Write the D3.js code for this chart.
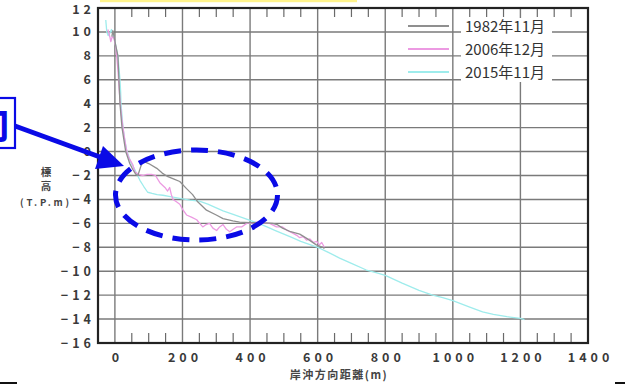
<!DOCTYPE html>
<html>
<head>
<meta charset="utf-8">
<script src="https://cdn.jsdelivr.net/npm/d3@7"></script>
<style>
  html, body { margin: 0; padding: 0; background: #fff; }
  svg { display: block; }
  text { font-family: "Noto Sans CJK JP", "Noto Sans", sans-serif; }
</style>
</head>
<body>
<svg id="chart" width="625" height="385"></svg>
<script>
// Cross-shore beach profiles: distance offshore (m) vs. elevation (T.P. m)
const seriesNames = ["1982年11月", "2006年12月", "2015年11月"];
const seriesColors = ["#8f8f8f", "#ec9ae2", "#9eecec"];

const profile1982 = [
  [-9, 9.6], [-6, 10.1], [-3, 9.7], [3, 8.8], [9, 8.0], [12, 6.0], [15, 4.0], [21, 2.0],
  [32, 0.0], [44, -1.0], [53, -1.5], [62, -1.9], [68, -2.0], [76, -1.3], [83, -0.8],
  [100, -1.0], [124, -1.4], [140, -1.8], [157, -2.1], [175, -2.3], [192, -2.5],
  [212, -3.1], [230, -3.6], [245, -4.2], [271, -4.9], [300, -5.3], [320, -5.6],
  [349, -5.8], [369, -5.9], [400, -5.95], [430, -5.95], [467, -6.0], [480, -6.1],
  [496, -6.4], [520, -6.7], [547, -6.9], [570, -7.3], [596, -7.8], [615, -8.0], [620, -8.1]
];

const profile2006 = [
  [-21, 10.2], [-15, 9.6], [-12, 9.2], [-8, 9.6], [-3, 9.5], [3, 8.7], [6, 7.8], [9, 6.8],
  [12, 5.5], [15, 4.3], [18, 3.4], [21, 2.6], [24, 2.0], [27, 1.4], [32, 0.5], [36, -0.1],
  [41, -0.5], [47, -0.8], [53, -1.1], [59, -1.7], [70, -1.9], [83, -2.0], [95, -1.9],
  [109, -1.9], [120, -2.0], [133, -2.6], [148, -3.0], [156, -3.3], [162, -3.0], [167, -3.6],
  [172, -4.0], [182, -4.2], [192, -4.4], [202, -4.9], [212, -5.3], [228, -5.5], [242, -5.7],
  [251, -6.0], [260, -6.3], [270, -6.1], [280, -6.0], [290, -6.4], [301, -6.6], [310, -6.3],
  [320, -6.1], [330, -6.5], [340, -6.7], [350, -6.5], [360, -6.3], [375, -6.3], [390, -6.0],
  [405, -6.0], [419, -5.9], [440, -6.0], [458, -6.0], [478, -6.3], [496, -6.3], [510, -6.6],
  [525, -6.8], [538, -7.0], [547, -7.2], [557, -7.1], [567, -7.4], [577, -7.3], [587, -7.6],
  [597, -7.5], [605, -7.8], [612, -7.6], [620, -8.0]
];

const profile2015 = [
  [-27, 11.0], [-24, 10.0], [-20, 9.7], [-15, 9.9], [-10, 10.2], [-6, 9.8], [0, 9.2],
  [5, 8.5], [9, 8.0], [12, 7.0], [15, 6.0], [17, 5.0], [18, 4.0], [21, 3.0], [24, 2.0],
  [29, 1.0], [35, 0.1], [41, -0.4], [47, -0.9], [55, -1.3], [62, -1.7], [74, -2.4],
  [85, -2.9], [97, -3.4], [110, -3.5], [125, -3.6], [142, -3.65], [160, -3.75], [180, -3.85],
  [200, -3.95], [222, -4.05], [250, -4.15], [275, -4.4], [300, -4.7], [320, -4.95],
  [350, -5.25], [375, -5.5], [400, -5.75], [425, -6.0], [450, -6.3], [475, -6.6], [500, -6.9],
  [525, -7.2], [550, -7.5], [575, -7.75], [600, -8.0], [630, -8.4], [665, -8.9], [700, -9.35],
  [744, -9.9], [770, -10.1], [800, -10.35], [850, -11.0], [900, -11.6], [940, -12.0],
  [970, -12.2], [1000, -12.45], [1050, -13.0], [1088, -13.4], [1120, -13.6], [1160, -13.8],
  [1200, -13.95], [1212, -14.05]
];

const xTicks = [0, 200, 400, 600, 800, 1000, 1200, 1400];
const yTicks = [-16, -14, -12, -10, -8, -6, -4, -2, 0, 2, 4, 6, 8, 10, 12];
const minorStep = 50;

const svg = d3.select("#chart");
const plotLeft = 98, plotRight = 588, plotTop = 8, plotBottom = 343;

const x = d3.scaleLinear().domain([-50, 1400]).range([plotLeft, plotRight]);
const y = d3.scaleLinear().domain([-16, 12]).range([plotBottom, plotTop]);

// highlight strip along the top edge
svg.append("rect").attr("x", 100).attr("y", 0).attr("width", 257).attr("height", 2.2)
  .attr("fill", "#fff38c");

// grid
const grid = svg.append("g").attr("stroke", "#7a7a7a").attr("stroke-width", 1.4);
grid.selectAll("line.v").data(xTicks.filter(d => d < 1400)).join("line")
  .attr("class", "v")
  .attr("x1", d => x(d)).attr("x2", d => x(d)).attr("y1", plotTop).attr("y2", plotBottom);
grid.selectAll("line.h").data(yTicks.filter(d => d > -16 && d < 12)).join("line")
  .attr("class", "h")
  .attr("x1", plotLeft).attr("x2", plotRight).attr("y1", d => y(d)).attr("y2", d => y(d));

// minor ticks along top and bottom edges
const minor = d3.range(0, 1400, minorStep).filter(d => d % 200 !== 0);
const tickG = svg.append("g").attr("stroke", "#6a6a6a").attr("stroke-width", 1.2);
tickG.selectAll("line.t").data(minor).join("line").attr("class", "t")
  .attr("x1", d => x(d)).attr("x2", d => x(d)).attr("y1", plotTop).attr("y2", plotTop + 9);
tickG.selectAll("line.b").data(minor).join("line").attr("class", "b")
  .attr("x1", d => x(d)).attr("x2", d => x(d)).attr("y1", plotBottom - 10).attr("y2", plotBottom);

// profile lines
const line = d3.line().x(d => x(d[0])).y(d => y(d[1]));
const profiles = [profile1982, profile2006, profile2015];
[2, 1, 0].forEach(i => {
  svg.append("path").datum(profiles[i])
    .attr("fill", "none")
    .attr("stroke", seriesColors[i])
    .attr("stroke-width", 1.3)
    .attr("stroke-linejoin", "round")
    .attr("d", line);
});

// legend
svg.append("rect").attr("x", 461).attr("y", 18).attr("width", 91).attr("height", 64)
  .attr("fill", "#fff");
const legend = svg.append("g");
seriesNames.forEach((name, i) => {
  const ly = 26 + i * 23;
  legend.append("line").attr("x1", 408).attr("x2", 449).attr("y1", ly).attr("y2", ly)
    .attr("stroke", seriesColors[i]).attr("stroke-width", 1.8);
  legend.append("text").attr("x", 465).attr("y", ly + 5.5)
    .attr("font-size", 15).attr("fill", "#333").text(name);
});

// frame
svg.append("rect").attr("x", plotLeft).attr("y", plotTop)
  .attr("width", plotRight - plotLeft).attr("height", plotBottom - plotTop)
  .attr("fill", "none").attr("stroke", "#222").attr("stroke-width", 2.2);

// axes labels
const fmt = d => (d < 0 ? "\u2212" : "") + Math.abs(d);
const xAxis = svg.append("g").attr("transform", `translate(0,${plotBottom})`)
  .call(d3.axisBottom(x).tickValues(xTicks).tickSize(0).tickPadding(10).tickFormat(fmt));
xAxis.select(".domain").remove();
xAxis.selectAll("text").attr("font-size", 12.5).attr("font-weight", "bold").attr("fill", "#3a3a3a")
  .attr("letter-spacing", 4).attr("dx", 2)
  .style("font-family", '"Noto Sans CJK JP", sans-serif');

const yAxis = svg.append("g").attr("transform", `translate(${plotLeft},0)`)
  .call(d3.axisLeft(y).tickValues(yTicks).tickSize(0).tickPadding(3).tickFormat(fmt));
yAxis.select(".domain").remove();
yAxis.selectAll("text").attr("font-size", 12.5).attr("font-weight", "bold").attr("fill", "#3a3a3a")
  .attr("letter-spacing", 4)
  .style("font-family", '"Noto Sans CJK JP", sans-serif');
// keep the top label inside the page
yAxis.selectAll(".tick").filter(d => d === 12).select("text").attr("dy", "0.42em");

// axis titles
svg.append("text").attr("x", 339).attr("y", 379).attr("text-anchor", "middle")
  .attr("font-size", 11).attr("font-weight", "bold").attr("fill", "#444").attr("letter-spacing", 1.5)
  .text("岸沖方向距離(m)");
const yt = svg.append("g").attr("font-size", 10.5).attr("font-weight", "bold").attr("fill", "#444")
  .attr("text-anchor", "middle");
yt.append("text").attr("x", 46).attr("y", 176).text("標");
yt.append("text").attr("x", 46).attr("y", 190).text("高");
yt.append("text").attr("x", 46).attr("y", 205.5).attr("font-size", 9.5).attr("letter-spacing", 2.8).text("(T.P.m)");

// callout: dashed ellipse, arrow and label box
svg.append("ellipse").attr("cx", 196.5).attr("cy", 195).attr("rx", 81).attr("ry", 45)
  .attr("fill", "none").attr("stroke", "#0a0ae6").attr("stroke-width", 5)
  .attr("stroke-dasharray", "17 10");
svg.append("line").attr("x1", 15).attr("y1", 126).attr("x2", 100).attr("y2", 157)
  .attr("stroke", "#0a0ae6").attr("stroke-width", 5);
svg.append("polygon").attr("points", "103,146 124,166 95,169").attr("fill", "#0a0ae6");
svg.append("rect").attr("x", -10).attr("y", 98).attr("width", 25).attr("height", 50)
  .attr("fill", "#fff").attr("stroke", "#0a0ae6").attr("stroke-width", 2.2);
svg.append("text").attr("x", 10).attr("y", 138).attr("text-anchor", "end")
  .attr("font-size", 40).attr("font-weight", "bold").attr("fill", "#0a0ae6").text("向");

// page edge marks
svg.append("line").attr("x1", 0).attr("x2", 17).attr("y1", 383).attr("y2", 383)
  .attr("stroke", "#111").attr("stroke-width", 2);
svg.append("line").attr("x1", 615).attr("x2", 625).attr("y1", 383).attr("y2", 383)
  .attr("stroke", "#111").attr("stroke-width", 2);
</script>
</body>
</html>
